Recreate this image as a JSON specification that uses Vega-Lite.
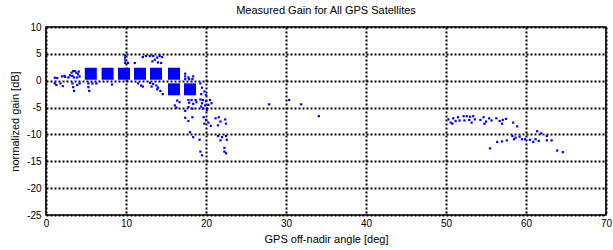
{
  "$schema": "https://vega.github.io/schema/vega-lite/v6.json",
  "width": 560,
  "height": 188,
  "autosize": {"type": "none"},
  "padding": {"left": 46, "top": 27, "right": 7, "bottom": 35},
  "background": "white",
  "title": {"text": "Measured Gain for All GPS Satellites", "fontSize": 11, "fontWeight": "normal", "font": "Liberation Sans", "color": "black", "offset": 6},
  "config": {
    "view": {"stroke": "black", "strokeWidth": 1.6},
    "axis": {
      "labelFont": "Liberation Sans", "labelFontSize": 10, "labelColor": "black",
      "titleFont": "Liberation Sans", "titleFontSize": 11, "titleFontWeight": "normal", "titleColor": "black",
      "grid": true, "gridColor": "black", "gridDash": [2, 2], "gridWidth": 2, "gridOpacity": 1,
      "ticks": false, "domain": false
    }
  },
  "datasets": {
    "dense": [
      {"angle": 5.6, "gain": 1.3}, {"angle": 7.7, "gain": 1.3}, {"angle": 9.75, "gain": 1.3},
      {"angle": 11.75, "gain": 1.3}, {"angle": 13.75, "gain": 1.3}, {"angle": 16, "gain": 1.3},
      {"angle": 16, "gain": -1.6}, {"angle": 18, "gain": -1.6}
    ],
    "single": [
      {"angle": 1.1, "gain": 0.55}, {"angle": 1.4, "gain": 0.5}, {"angle": 2.0, "gain": 0.8}, {"angle": 2.3, "gain": 0.9}, {"angle": 2.4, "gain": 0.7},
      {"angle": 2.8, "gain": 0.6}, {"angle": 3.0, "gain": 1.0}, {"angle": 3.2, "gain": 1.5}, {"angle": 3.4, "gain": 1.8}, {"angle": 3.6, "gain": 1.8},
      {"angle": 3.8, "gain": 1.5}, {"angle": 4.0, "gain": 1.2}, {"angle": 4.2, "gain": 0.8}, {"angle": 3.5, "gain": 0.6}, {"angle": 3.9, "gain": 0.6},
      {"angle": 3.3, "gain": 0.9}, {"angle": 4.1, "gain": 1.7},
      {"angle": 1.1, "gain": -0.5}, {"angle": 1.3, "gain": -0.8}, {"angle": 1.8, "gain": -0.5}, {"angle": 2.1, "gain": -1.0},
      {"angle": 3.3, "gain": -0.5}, {"angle": 3.4, "gain": -1.2}, {"angle": 3.5, "gain": -1.9}, {"angle": 3.9, "gain": -0.8}, {"angle": 4.2, "gain": -0.5},
      {"angle": 5.3, "gain": -0.5}, {"angle": 5.3, "gain": -1.2}, {"angle": 5.4, "gain": -1.9}, {"angle": 5.8, "gain": -0.5}, {"angle": 6.3, "gain": -0.5},
      {"angle": 8.25, "gain": -0.7}, {"angle": 11.5, "gain": -0.5}, {"angle": 11.9, "gain": -0.9}, {"angle": 12.1, "gain": -1.1},
      {"angle": 13.0, "gain": -0.4}, {"angle": 13.4, "gain": -0.6}, {"angle": 13.8, "gain": -0.9}, {"angle": 13.2, "gain": -1.1},
      {"angle": 14.0, "gain": -1.3}, {"angle": 14.3, "gain": -1.9}, {"angle": 14.6, "gain": -2.5}, {"angle": 13.9, "gain": -1.6},
      {"angle": 19.3, "gain": -0.5}, {"angle": 19.5, "gain": -1.3}, {"angle": 19.8, "gain": -2.0}, {"angle": 20.0, "gain": -2.7}, {"angle": 19.4, "gain": -2.5},
      {"angle": 9.9, "gain": 3.3}, {"angle": 9.9, "gain": 3.8}, {"angle": 9.9, "gain": 4.3}, {"angle": 9.9, "gain": 4.7}, {"angle": 10.25, "gain": 3.3},
      {"angle": 11.1, "gain": 3.3}, {"angle": 12.1, "gain": 4.4}, {"angle": 12.5, "gain": 4.6}, {"angle": 13.0, "gain": 4.6}, {"angle": 13.4, "gain": 4.6},
      {"angle": 13.3, "gain": 3.6}, {"angle": 13.6, "gain": 3.9}, {"angle": 13.9, "gain": 4.3}, {"angle": 14.2, "gain": 4.6}, {"angle": 14.5, "gain": 4.4},
      {"angle": 14.0, "gain": 3.4}, {"angle": 14.4, "gain": 3.3},
      {"angle": 17.4, "gain": 0.3}, {"angle": 17.4, "gain": 0.8}, {"angle": 17.4, "gain": 1.3}, {"angle": 17.9, "gain": 0.3}, {"angle": 18.3, "gain": 0.3},
      {"angle": 18.4, "gain": 0.8}, {"angle": 17.8, "gain": 0.6},
      {"angle": 16.1, "gain": -4.6}, {"angle": 16.4, "gain": -3.7}, {"angle": 16.7, "gain": -4.0}, {"angle": 16.3, "gain": -5.0},
      {"angle": 17.4, "gain": -5.6}, {"angle": 17.8, "gain": -4.9}, {"angle": 18.3, "gain": -5.2},
      {"angle": 17.8, "gain": -3.6}, {"angle": 18.2, "gain": -3.6}, {"angle": 18.7, "gain": -3.6}, {"angle": 17.9, "gain": -4.1}, {"angle": 18.4, "gain": -4.3}, {"angle": 18.8, "gain": -4.0},
      {"angle": 19.3, "gain": -3.5}, {"angle": 19.6, "gain": -3.6}, {"angle": 20.0, "gain": -3.8}, {"angle": 20.5, "gain": -3.6}, {"angle": 19.5, "gain": -4.2},
      {"angle": 19.9, "gain": -4.6}, {"angle": 20.3, "gain": -4.5}, {"angle": 20.7, "gain": -4.2}, {"angle": 19.6, "gain": -5.2}, {"angle": 20.1, "gain": -5.5}, {"angle": 19.4, "gain": -4.8},
      {"angle": 17.4, "gain": -6.9}, {"angle": 17.8, "gain": -7.5}, {"angle": 18.3, "gain": -6.8},
      {"angle": 19.7, "gain": -6.8}, {"angle": 20.0, "gain": -7.3}, {"angle": 20.3, "gain": -7.8}, {"angle": 20.6, "gain": -8.4}, {"angle": 19.8, "gain": -8.0},
      {"angle": 21.2, "gain": -7.0}, {"angle": 21.6, "gain": -6.8}, {"angle": 21.8, "gain": -7.6}, {"angle": 22.4, "gain": -7.2}, {"angle": 21.5, "gain": -8.3}, {"angle": 22.5, "gain": -8.0},
      {"angle": 18.0, "gain": -9.6}, {"angle": 18.4, "gain": -10.5}, {"angle": 19.2, "gain": -11.0},
      {"angle": 21.5, "gain": -10.3}, {"angle": 22.0, "gain": -10.5}, {"angle": 22.5, "gain": -10.3}, {"angle": 22.6, "gain": -11.0}, {"angle": 21.8, "gain": -11.1},
      {"angle": 19.3, "gain": -13.2}, {"angle": 19.5, "gain": -13.9}, {"angle": 22.3, "gain": -12.5}, {"angle": 22.5, "gain": -13.5}, {"angle": 22.3, "gain": -13.2},
      {"angle": 27.9, "gain": -4.4}, {"angle": 30.4, "gain": -3.6}, {"angle": 31.9, "gain": -4.4}, {"angle": 34.1, "gain": -6.6},
      {"angle": 50.3, "gain": -7.2}, {"angle": 50.6, "gain": -7.8}, {"angle": 50.9, "gain": -7.0}, {"angle": 51.2, "gain": -7.5}, {"angle": 51.5, "gain": -6.8}, {"angle": 51.7, "gain": -7.4}, {"angle": 50.8, "gain": -8.0},
      {"angle": 52.2, "gain": -6.6}, {"angle": 52.6, "gain": -6.6}, {"angle": 53.0, "gain": -6.7}, {"angle": 53.4, "gain": -6.6}, {"angle": 52.3, "gain": -7.4}, {"angle": 52.9, "gain": -7.3}, {"angle": 53.6, "gain": -7.2}, {"angle": 53.2, "gain": -7.8},
      {"angle": 54.3, "gain": -7.3}, {"angle": 54.7, "gain": -6.8}, {"angle": 55.0, "gain": -7.6}, {"angle": 55.4, "gain": -7.0}, {"angle": 55.7, "gain": -7.4}, {"angle": 54.8, "gain": -8.0},
      {"angle": 56.3, "gain": -7.0}, {"angle": 56.7, "gain": -7.5}, {"angle": 57.1, "gain": -7.3}, {"angle": 57.5, "gain": -7.1}, {"angle": 57.0, "gain": -8.0},
      {"angle": 58.4, "gain": -7.8}, {"angle": 58.9, "gain": -8.5},
      {"angle": 55.5, "gain": -12.6}, {"angle": 56.4, "gain": -11.4}, {"angle": 57.0, "gain": -11.3}, {"angle": 57.6, "gain": -11.1},
      {"angle": 58.3, "gain": -10.3}, {"angle": 58.7, "gain": -10.6}, {"angle": 59.2, "gain": -10.4}, {"angle": 58.5, "gain": -10.9}, {"angle": 59.5, "gain": -10.9}, {"angle": 59.9, "gain": -10.9},
      {"angle": 60.5, "gain": -11.0}, {"angle": 60.9, "gain": -11.4}, {"angle": 61.2, "gain": -10.9}, {"angle": 61.6, "gain": -11.2},
      {"angle": 61.4, "gain": -9.4}, {"angle": 61.9, "gain": -9.8}, {"angle": 62.6, "gain": -10.3}, {"angle": 62.6, "gain": -11.1}, {"angle": 63.2, "gain": -11.1},
      {"angle": 63.9, "gain": -13.0}, {"angle": 64.6, "gain": -13.3}
    ]
  },
  "encoding": {
    "x": {"field": "angle", "type": "quantitative",
      "scale": {"domain": [0, 70], "nice": false, "zero": false},
      "axis": {"values": [0, 10, 20, 30, 40, 50, 60, 70], "title": "GPS off-nadir angle [deg]", "labelPadding": 3, "titlePadding": 5, "labelFlush": false}},
    "y": {"field": "gain", "type": "quantitative",
      "scale": {"domain": [-25, 10], "nice": false, "zero": false},
      "axis": {"values": [-25, -20, -15, -10, -5, 0, 5, 10], "title": "normalized gain [dB]", "labelPadding": 5, "titlePadding": 6, "labelExpr": "toString(datum.value)"}}
  },
  "layer": [
    {"data": {"name": "dense"}, "mark": {"type": "point", "shape": "square", "filled": true, "size": 144, "color": "#0000ff", "opacity": 1, "strokeWidth": 0}},
    {"data": {"name": "single"}, "mark": {"type": "point", "shape": "square", "filled": true, "size": 5, "color": "#0000ff", "opacity": 1, "strokeWidth": 0}}
  ]
}
